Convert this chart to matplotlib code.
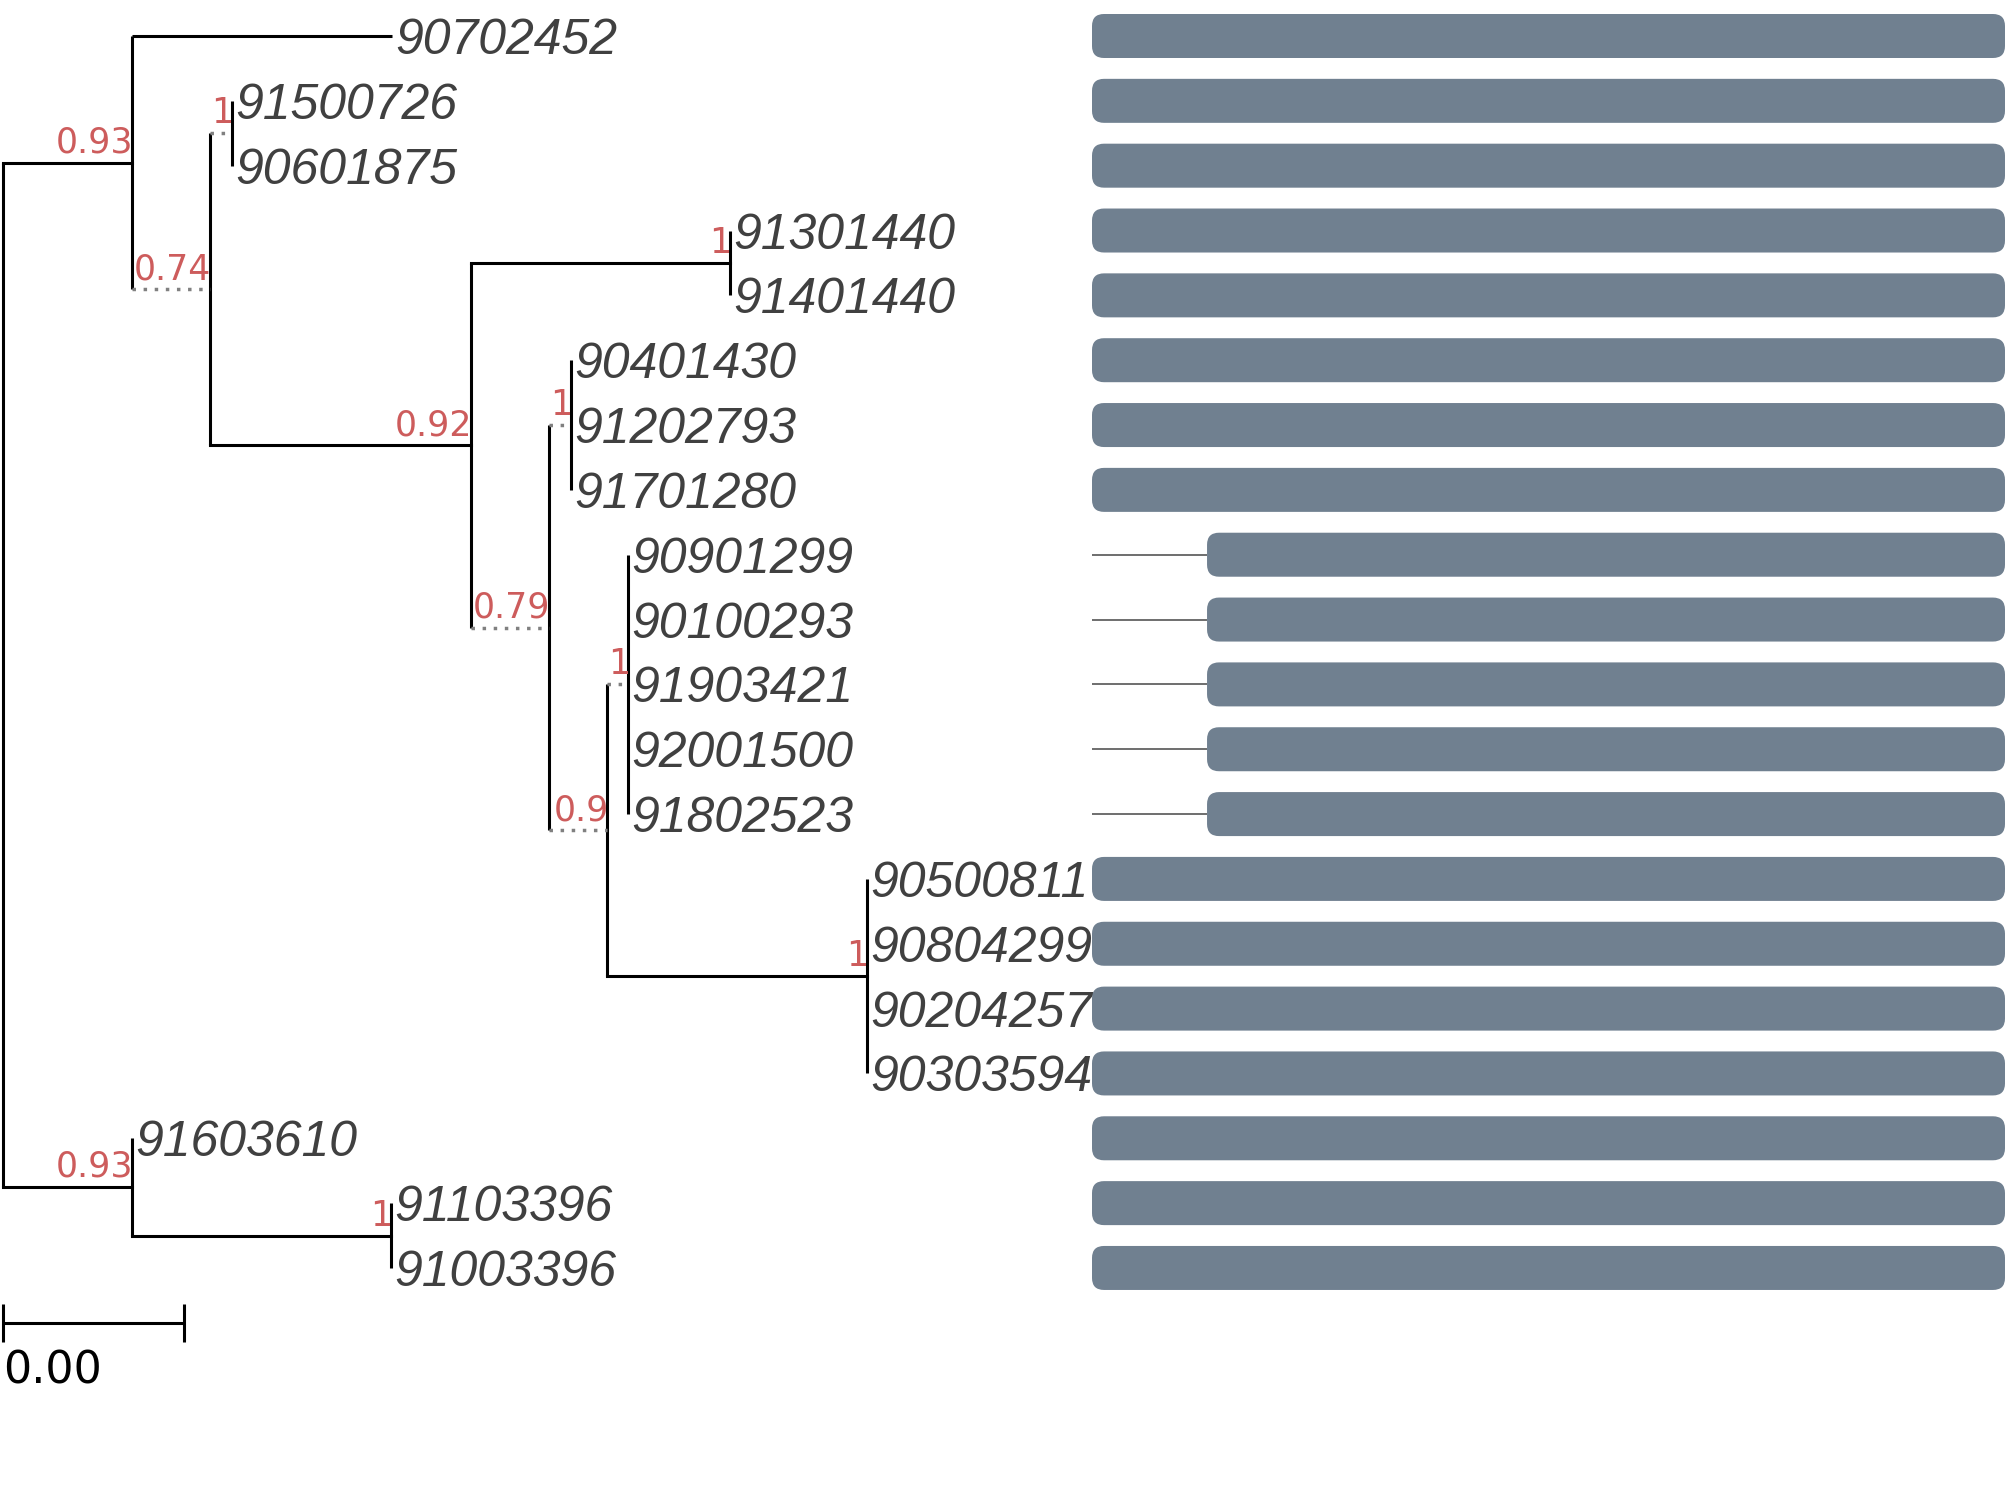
import matplotlib
matplotlib.use('Agg')
import matplotlib.pyplot as plt
from matplotlib.patches import FancyBboxPatch

##################################################################
# TREE DATA
##################################################################
leaf_names = ["90702452", "91500726", "90601875", "91301440", "91401440",
              "90401430", "91202793", "91701280", "90901299", "90100293",
              "91903421", "92001500", "91802523", "90500811", "90804299",
              "90204257", "90303594", "91603610", "91103396", "91003396"]
leaf_parent = ["n1", "n3", "n3", "n5", "n5",
               "n7", "n7", "n7", "n9", "n9",
               "n9", "n9", "n9", "n10", "n10",
               "n10", "n10", "n11", "n12", "n12"]
leaf_length = [0.00576, 0, 0, 0, 0,
               0, 0, 0, 0, 0,
               0, 0, 0, 0, 0,
               0, 0, 0, 0, 0]

node_names = ["root", "n1", "n2", "n3", "n4", "n5", "n6",
              "n7", "n8", "n9", "n10", "n11", "n12"]
node_parent = [None, "root", "n1", "n2", "n2", "n4", "n4",
               "n6", "n6", "n8", "n8", "root", "n11"]
node_length = [0, 0.00286, 0.00173, 0.00049, 0.00578, 0.00574, 0.00173,
               0.00049, 0.00129, 0.00047, 0.00576, 0.00286, 0.00574]
node_support = [None, 0.93, 0.74, 1, 0.92, 1, 0.79,
                1, 0.9, 1, 1, 0.93, 1]

scale_len = 0.004
short_branch = 0.002   # shorter branches are drawn dotted

##################################################################
# ALIGNMENT BARS
##################################################################
seq_start = [0, 0, 0, 0, 0, 0, 0, 0,
             126, 126, 126, 126, 126,
             0, 0, 0, 0, 0, 0, 0]
seq_end = [1000] * 20

##################################################################
# FIGURE / LAYOUT
##################################################################
W, H, DPI = 2007, 1485, 100
row_px = 64.84
top_px = 36
tree_px = 45125.0      # pixels per unit branch length
root_px = 3
bar_left, bar_right = 1092, 2005

fig = plt.figure(figsize=(W / DPI, H / DPI), dpi=DPI)
fig.patch.set_facecolor('white')
ylim = ((H - top_px) / row_px, -top_px / row_px)

ax = fig.add_axes([0, 0, 1, 1])
ax.set_xlim(-root_px / tree_px, (W - root_px) / tree_px)
ax.set_ylim(*ylim)
ax.axis('off')

##################################################################
# TREE LAYOUT
##################################################################
node_par = dict(zip(node_names, node_parent))
node_len = dict(zip(node_names, node_length))
children = {n: [] for n in node_names}
for n, p in zip(node_names, node_parent):
    if p is not None:
        children[p].append(('node', n))
for i, p in enumerate(leaf_parent):
    children[p].append(('leaf', i))

node_x = {}
def get_x(n):
    if n not in node_x:
        p = node_par[n]
        node_x[n] = 0.0 if p is None else get_x(p) + node_len[n]
    return node_x[n]

node_y = {}
def get_y(n):
    if n not in node_y:
        ys = [get_y(c) if kind == 'node' else c for kind, c in children[n]]
        node_y[n] = (min(ys) + max(ys)) / 2.0
    return node_y[n]

for n in node_names:
    get_x(n)
    get_y(n)

LW = 2.2
black = '#000000'
dot_col = '#808080'
red = '#cd5c5c'
label_col = '#404040'

# vertical connectors
for n in node_names:
    ys = [node_y[c] if kind == 'node' else c for kind, c in children[n]]
    ax.plot([node_x[n], node_x[n]], [min(ys), max(ys)], color=black, lw=LW,
            solid_capstyle='butt', clip_on=False)

# internal branches
for n in node_names:
    p = node_par[n]
    if p is None:
        continue
    if node_len[n] < short_branch:
        ax.plot([node_x[p], node_x[n]], [node_y[n], node_y[n]], color=dot_col,
                lw=2.5, linestyle=(0, (1, 2.2)), dash_capstyle='butt', clip_on=False)
    else:
        ax.plot([node_x[p], node_x[n]], [node_y[n], node_y[n]], color=black,
                lw=LW, solid_capstyle='projecting', clip_on=False)

# leaf branches + labels
for i, name in enumerate(leaf_names):
    px = node_x[leaf_parent[i]]
    lx = px + leaf_length[i]
    if leaf_length[i] > 0:
        ax.plot([px, lx], [i, i], color=black, lw=LW, solid_capstyle='butt', clip_on=False)
    ax.annotate(name, xy=(lx, i), xytext=(3, -18), textcoords='offset pixels',
                ha='left', va='baseline', fontsize=36, family='Liberation Sans',
                style='italic', color=label_col)

# support values
for n, s in zip(node_names, node_support):
    if s is None:
        continue
    ax.annotate(f"{s:g}", xy=(node_x[n], node_y[n]), xytext=(1.5, 10),
                textcoords='offset pixels', ha='right', va='baseline',
                fontsize=25, family='DejaVu Sans', color=red)

# scale bar
sb_y = len(leaf_names) - 1 + 0.85
tick = 19 / row_px
ax.plot([0, scale_len], [sb_y, sb_y], color=black, lw=LW, solid_capstyle='butt')
ax.plot([0, 0], [sb_y - tick, sb_y + tick], color=black, lw=LW, solid_capstyle='butt')
ax.plot([scale_len, scale_len], [sb_y - tick, sb_y + tick], color=black, lw=LW,
        solid_capstyle='butt')
ax.annotate(f"{scale_len:.2f}", xy=(0, sb_y), xytext=(0, -60), textcoords='offset pixels',
            ha='left', va='baseline', fontsize=32, family='DejaVu Sans', color=black)

##################################################################
# BARS
##################################################################
bx = fig.add_axes([bar_left / W, 0, (bar_right - bar_left) / W, 1])
xmax = max(seq_end)
bx.set_xlim(0, xmax)
bx.set_ylim(*ylim)
bx.axis('off')

px_x = (bar_right - bar_left) / xmax
aspect = px_x / row_px
radius = 12 / px_x
bar_h = 44 / row_px
for i, (s, e) in enumerate(zip(seq_start, seq_end)):
    if s > 0:
        bx.plot([0, s], [i, i], color='#555555', lw=1.2, solid_capstyle='butt', clip_on=False)
    bx.add_patch(FancyBboxPatch((s, i - bar_h / 2), e - s, bar_h,
                                boxstyle=f"round,pad=0,rounding_size={radius}",
                                mutation_aspect=aspect, facecolor='#708090',
                                edgecolor='none', clip_on=False))

fig.savefig('out.png', dpi=DPI, facecolor='white')
